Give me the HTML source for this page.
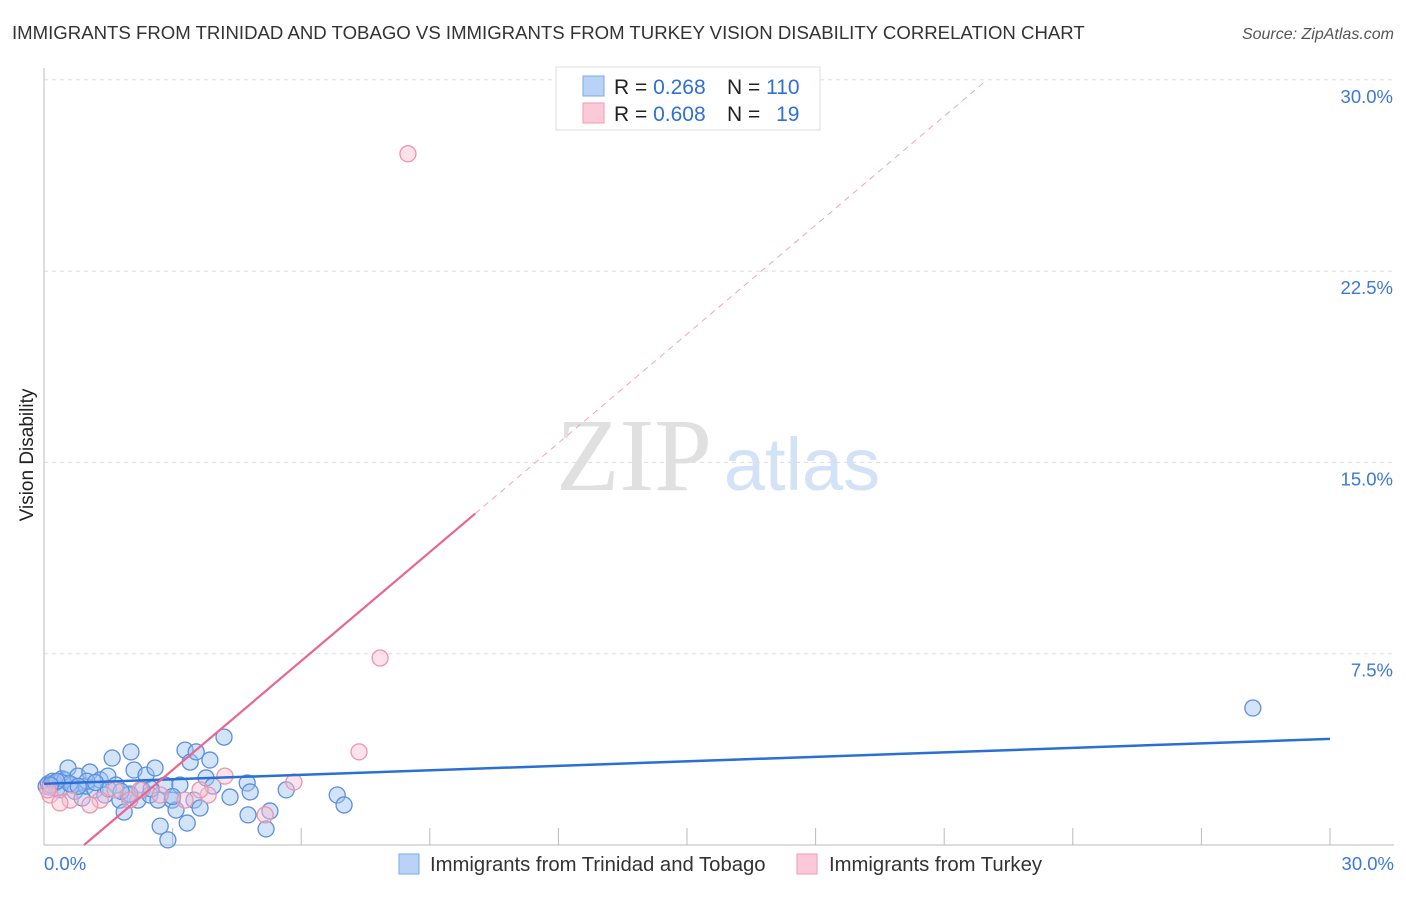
<!DOCTYPE html>
<html><head><meta charset="utf-8"><style>
body{margin:0;background:#fff;font-family:"Liberation Sans",sans-serif;}
</style></head><body>
<svg width="1406" height="892" xmlns="http://www.w3.org/2000/svg" font-family="Liberation Sans, sans-serif">
<text x="12" y="39" font-size="18.6" fill="#333">IMMIGRANTS FROM TRINIDAD AND TOBAGO VS IMMIGRANTS FROM TURKEY VISION DISABILITY CORRELATION CHART</text>
<text x="1394" y="39" font-size="16" fill="#555" font-style="italic" text-anchor="end">Source: ZipAtlas.com</text>
<text transform="translate(33,455) rotate(-90)" font-size="19" fill="#222" text-anchor="middle">Vision Disability</text>
<g>
<text x="634" y="490" font-size="104" fill="#e0e0e0" font-family="Liberation Serif, serif" text-anchor="middle">ZIP</text>
<text x="802" y="490" font-size="74" fill="#d3e2f6" text-anchor="middle">atlas</text>
</g>
<g id="grid"></g>
<g id="axes"></g>
<g id="marks"></g>
<g>
<rect x="556" y="67" width="264" height="63" fill="#fff" stroke="#ddd"/>
<rect x="583" y="76" width="21" height="20" fill="#b9d3f7" stroke="#7aaaea"/>
<rect x="583" y="103" width="21" height="20" fill="#fbc9d8" stroke="#f09ab3"/>
<text x="614" y="94" font-size="21" fill="#222">R = <tspan fill="#2f6fd6">0.268</tspan></text>
<text x="727" y="94" font-size="21" fill="#222">N = <tspan fill="#2f6fd6">110</tspan></text>
<text x="614" y="121" font-size="21" fill="#222">R = <tspan fill="#2f6fd6">0.608</tspan></text>
<text x="727" y="121" font-size="21" fill="#222">N = <tspan fill="#2f6fd6" dx="10">19</tspan></text>
</g>
<g>
<rect x="399" y="854" width="20" height="20" fill="#b9d3f7" stroke="#7aaaea"/>
<text x="430" y="871" font-size="20.3" fill="#333">Immigrants from Trinidad and Tobago</text>
<rect x="797" y="854" width="20" height="20" fill="#fbc9d8" stroke="#f09ab3"/>
<text x="829" y="871" font-size="20.3" fill="#333">Immigrants from Turkey</text>
</g>
</svg>
<script>
const yTicks=[7.5,15,22.5,30];
const yTickLabels=["7.5%","15.0%","22.5%","30.0%"];
const xTicks=[3,6,9,12,15,18,21,24,27,30];
const blueX=[0.05,0.1,0.14,0.2,0.26,0.3,0.37,0.42,0.49,0.56,0.65,0.72,0.79,0.89,0.98,1.07,1.19,1.31,1.42,1.49,1.59,1.68,1.77,1.87,1.96,2.03,2.1,2.19,2.29,2.38,2.47,2.59,2.66,2.71,2.82,2.89,2.99,3.08,3.17,3.29,3.34,3.41,3.5,3.55,3.64,3.78,3.87,3.94,4.2,4.34,4.74,4.81,4.76,5.18,5.27,5.65,6.84,7.0,28.2,0.6,1.0,1.5,2.0,0.3,0.8,1.2,1.8,2.5,3.0,0.15];
const blueY=[2.3,2.4,2.27,2.5,2.43,2.2,2.16,2.6,2.55,3.02,2.35,2.1,2.7,1.84,2.31,2.86,2.16,2.55,1.96,2.7,3.41,2.35,1.76,1.29,1.96,3.65,2.94,1.76,2.16,2.74,1.96,3.02,1.76,0.74,2.35,0.2,1.76,1.37,2.35,3.72,0.86,3.25,1.76,3.65,1.45,2.63,3.33,2.31,4.23,1.88,2.43,2.08,1.18,0.63,1.33,2.16,1.96,1.57,5.37,2.4,2.5,2.2,2.0,2.5,2.3,2.45,2.1,2.2,1.9,2.35];
const pinkX=[8.49,7.84,7.35,5.83,4.22,3.83,3.29,2.71,2.0,1.31,0.61,0.14,0.37,1.07,5.16,2.24,1.66,3.64,0.09];
const pinkY=[27.1,7.33,3.65,2.47,2.7,1.96,1.76,1.96,1.76,1.76,1.76,1.96,1.65,1.57,1.18,2.16,2.16,2.16,2.16];
const blueTrend=[2.4,4.16];
const pinkTrend=[-1.33,1.424];
const NS="http://www.w3.org/2000/svg";
const xs=v=>44+v/30*1286, ys=v=>845-v/7.5*191.3;
function mk(t,a,p){const e=document.createElementNS(NS,t);for(const k in a)e.setAttribute(k,a[k]);document.getElementById(p).appendChild(e);return e;}
yTicks.forEach((t,i)=>{
 const l=mk('line',{x1:44,x2:1394,y1:ys(t),y2:ys(t),stroke:'#ddd','stroke-dasharray':'4,4'},'grid');
 
 
 const tx=mk('text',{x:1393,y:ys(t)+23,'font-size':18.5,fill:'#3b78d8','text-anchor':'end'},'grid');
 tx.textContent=yTickLabels[i];
 
 
});
const ax=mk('line',{x1:44,x2:1394,y1:845,y2:845,stroke:'#bbb'},'axes');


const ay=mk('line',{x1:44,x2:44,y1:68,y2:845,stroke:'#bbb'},'axes');


xTicks.forEach(t=>{
 const l=mk('line',{x1:xs(t),x2:xs(t),y1:828,y2:845,stroke:'#bbb'},'axes');
 
 
});
const x0=mk('text',{x:44,y:870,'font-size':18.5,fill:'#3b78d8'},'axes');x0.textContent='0.0%';


const x1=mk('text',{x:1394,y:870,'font-size':18.5,fill:'#3b78d8','text-anchor':'end'},'axes');x1.textContent='30.0%';


blueX.forEach((x,i)=>{
 const c=mk('circle',{cx:xs(x),cy:ys(blueY[i]),r:8,fill:'rgba(160,195,240,0.45)',stroke:'#5b8fdf','stroke-width':1.3},'marks');
 
 
});
pinkX.forEach((x,i)=>{
 const c=mk('circle',{cx:xs(x),cy:ys(pinkY[i]),r:8,fill:'rgba(248,190,208,0.45)',stroke:'#ee93ae','stroke-width':1.3},'marks');
 
 
});
const bl=mk('line',{x1:xs(0),y1:ys(blueTrend[0]),x2:xs(30),y2:ys(blueTrend[1]),stroke:'#2a6fd6','stroke-width':2.5},'marks');


const px0=-pinkTrend[0]/pinkTrend[1], px1=10.06, px2=21.95;
const pl=mk('line',{x1:xs(px0),y1:ys(0),x2:xs(px1),y2:ys(pinkTrend[0]+pinkTrend[1]*px1),stroke:'#e8668f','stroke-width':2.2},'marks');


const pd=mk('line',{x1:xs(px1),y1:ys(pinkTrend[0]+pinkTrend[1]*px1),x2:xs(px2),y2:ys(pinkTrend[0]+pinkTrend[1]*px2),stroke:'#f0a5bc','stroke-width':1,'stroke-dasharray':'6,5'},'marks');


</script>
</body></html>
